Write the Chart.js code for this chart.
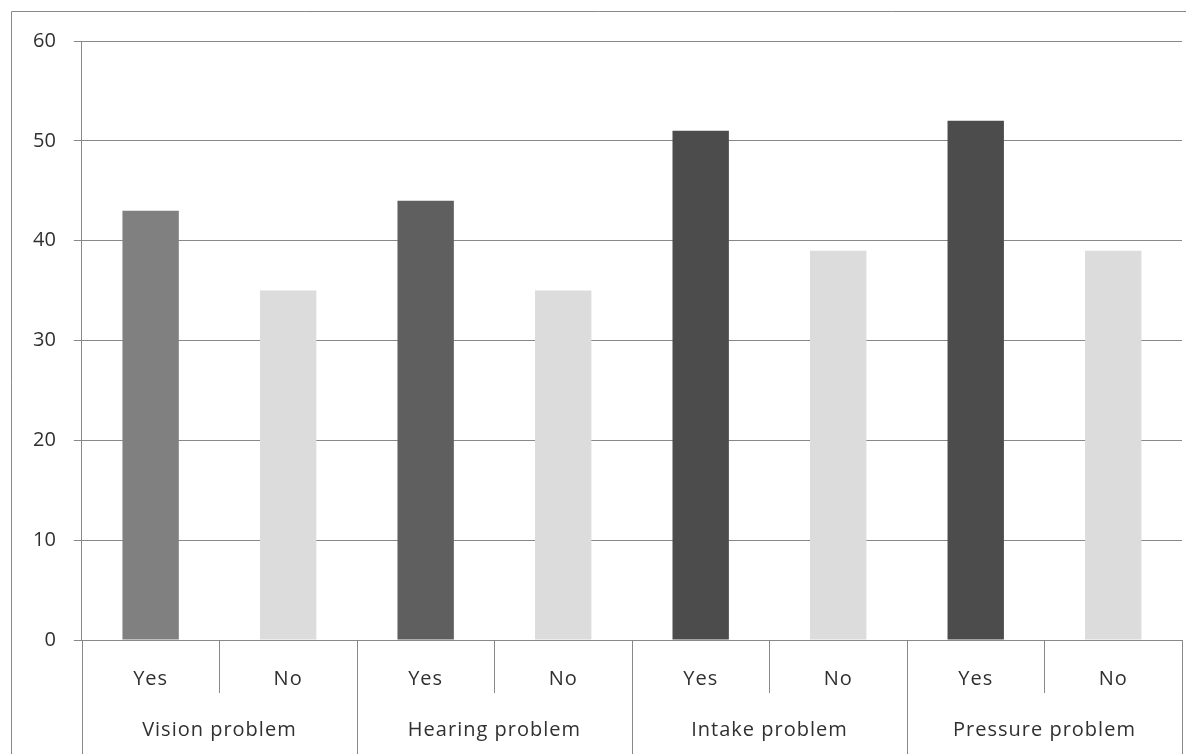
<!DOCTYPE html>
<html>
<head>
<meta charset="utf-8">
<script src="https://cdn.jsdelivr.net/npm/chart.js@4/dist/chart.umd.min.js"></script>
<style>
  html, body { margin: 0; padding: 0; background: #fff; }
  #wrap { width: 1186px; height: 754px; }
</style>
</head>
<body>
<div id="wrap"><canvas id="chart" width="1186" height="754"></canvas></div>
<script>
// data
const groups = ['Vision problem', 'Hearing problem', 'Intake problem', 'Pressure problem'];
const answers = ['Yes', 'No'];
const yesValues = [43, 44, 51, 52];
const noValues = [35, 35, 39, 39];
const yMin = 0, yMax = 60, yStep = 10;

const yesColors = ['#808080', '#5f5f5f', '#4c4c4c', '#4c4c4c'];
const noColor = '#dcdcdc';
const lineColor = '#888888';
const textColor = '#303030';

// flatten to 8 bars: Yes/No per group
const labels = [];
const values = [];
const colors = [];
groups.forEach((g, i) => {
  labels.push(g + ' - ' + answers[0], g + ' - ' + answers[1]);
  values.push(yesValues[i], noValues[i]);
  colors.push(yesColors[i], noColor);
});

// outer frame + two-level category axis
const decor = {
  id: 'decor',
  afterDraw(chart) {
    const ctx = chart.ctx;
    const x = chart.scales.x;
    const area = chart.chartArea;
    const H = chart.height;
    ctx.save();
    ctx.strokeStyle = lineColor;
    ctx.lineWidth = 1;

    // frame (top and left edges visible)
    ctx.beginPath();
    ctx.moveTo(11.5, chart.height);
    ctx.lineTo(11.5, 11.5);
    ctx.lineTo(chart.width, 11.5);
    ctx.stroke();

    const n = labels.length;
    const half = (x.getPixelForValue(1) - x.getPixelForValue(0)) / 2;
    const px = v => Math.round(v) + 0.5;

    ctx.beginPath();
    for (let i = 0; i <= n; i++) {
      const edge = px(i < n ? x.getPixelForValue(i) - half : x.getPixelForValue(n - 1) + half);
      ctx.moveTo(edge, area.bottom);
      ctx.lineTo(edge, i % 2 === 0 ? H : area.bottom + 53);
    }
    ctx.stroke();

    ctx.fillStyle = textColor;
    ctx.font = '20px "Open Sans"';
    ctx.letterSpacing = '1px';
    ctx.textAlign = 'center';
    ctx.textBaseline = 'alphabetic';
    for (let i = 0; i < n; i++) {
      ctx.fillText(answers[i % 2], x.getPixelForValue(i), area.bottom + 45);
    }
    groups.forEach((g, i) => {
      const c = (x.getPixelForValue(i * 2) + x.getPixelForValue(i * 2 + 1)) / 2;
      ctx.fillText(g, c, area.bottom + 96);
    });
    ctx.restore();
  }
};

new Chart(document.getElementById('chart'), {
  type: 'bar',
  data: {
    labels: labels,
    datasets: [{
      data: values,
      backgroundColor: colors,
      borderWidth: 0,
      categoryPercentage: 1,
      barPercentage: 0.41
    }]
  },
  options: {
    responsive: false,
    animation: false,
    layout: { padding: { left: 15, top: 41, right: 4, bottom: 114 } },
    plugins: { legend: { display: false }, tooltip: { enabled: false } },
    scales: {
      x: { display: false },
      y: {
        min: yMin,
        max: yMax,
        ticks: {
          stepSize: yStep,
          padding: 18,
          color: textColor,
          font: { family: 'Open Sans', size: 20 }
        },
        grid: { color: lineColor, lineWidth: 1, tickLength: 8 },
        border: { color: lineColor, width: 1 }
      }
    }
  },
  plugins: [decor]
});
</script>
</body>
</html>
